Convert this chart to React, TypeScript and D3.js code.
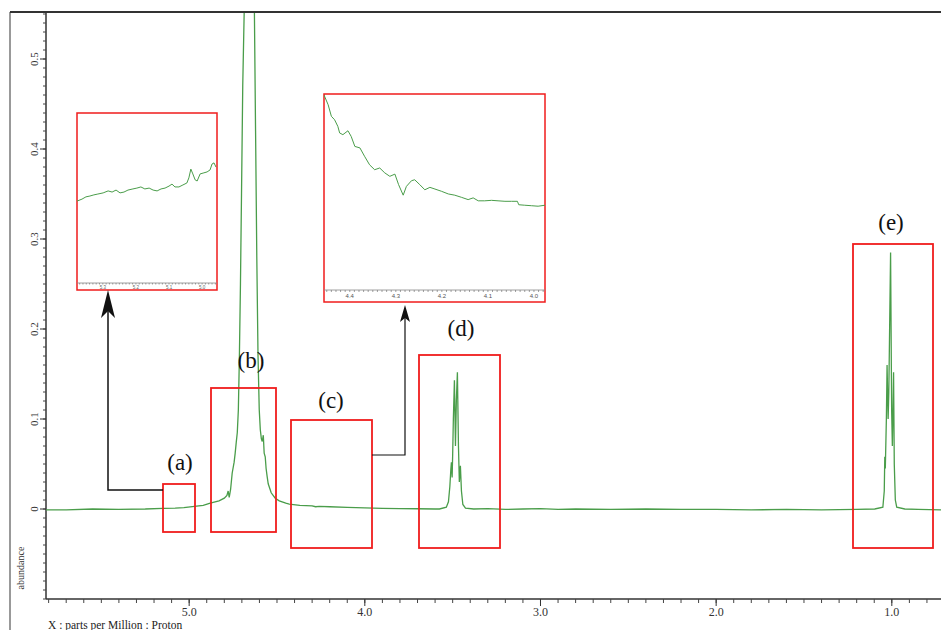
import React from "react";
import * as d3 from "d3";

// ---------- main spectrum (chemical shift in ppm, abundance) ----------
const shiftPpm = [
  5.815, 5.7, 5.55, 5.4, 5.25, 5.15, 5.08, 5.03, 4.97, 4.92, 4.88, 4.83, 4.8, 4.785, 4.778, 4.772,
  4.764, 4.755, 4.744, 4.738, 4.732, 4.726, 4.72, 4.714, 4.708, 4.702, 4.695, 4.686, 4.675, 4.655,
  4.638, 4.629, 4.622, 4.615, 4.608, 4.601, 4.595, 4.589, 4.584, 4.578, 4.573, 4.567, 4.562, 4.556,
  4.55, 4.533, 4.51, 4.487, 4.45, 4.43, 4.37, 4.3, 4.28, 4.26, 4.2, 4.1, 4.0, 3.9, 3.8, 3.7, 3.6,
  3.575, 3.536, 3.524, 3.516, 3.51, 3.507, 3.503, 3.5, 3.496, 3.49, 3.484, 3.479, 3.473, 3.467,
  3.462, 3.456, 3.45, 3.442, 3.427, 3.38, 3.3, 3.2, 3.1, 3.0, 2.9, 2.8, 2.6, 2.4, 2.2, 2.0, 1.8,
  1.6, 1.4, 1.2, 1.097, 1.051, 1.043, 1.04, 1.037, 1.031, 1.027, 1.021, 1.017, 1.007, 1.001, 0.997,
  0.99, 0.986, 0.98, 0.972, 0.926, 0.85, 0.72,
];
const abundance = [
  -0.001, -0.001, 0.0, -0.0005, 0.0, 0.0008, 0.001, 0.0015, 0.003, 0.004, 0.0065, 0.009, 0.012, 0.015, 0.02, 0.013,
  0.022, 0.04, 0.052, 0.062, 0.074, 0.085, 0.11, 0.17, 0.25, 0.35, 0.47, 0.56, 0.8, 1.0,
  0.85, 0.56, 0.42, 0.28, 0.17, 0.11, 0.088, 0.078, 0.075, 0.082, 0.062, 0.058, 0.045, 0.036,
  0.028, 0.018, 0.012, 0.009, 0.0065, 0.0055, 0.004, 0.0035, 0.0025, 0.003, 0.0025, 0.0018, 0.0012, 0.0008, 0.0005, 0.0003, 0.0,
  0.0, 0.002, 0.008, 0.025, 0.045, 0.052, 0.035, 0.06, 0.1, 0.143, 0.07, 0.12, 0.152, 0.07,
  0.03, 0.048, 0.02, 0.005, 0.001, 0.0, 0.0005, -0.0005, 0.0, 0.0005, -0.0005, 0.0, -0.0005, 0.0, -0.0005, -0.0005, -0.001,
  -0.0005, -0.001, -0.0005, 0.0, 0.002, 0.02, 0.058, 0.045, 0.1, 0.16, 0.1, 0.13, 0.285, 0.11, 0.07,
  0.152, 0.05, 0.01, 0.002, 0.0, -0.0005, -0.001,
];

// ---------- inset (a) ----------
const insetAPpm = [
  5.378, 5.363, 5.351, 5.339, 5.327, 5.315, 5.299, 5.284, 5.272, 5.26, 5.248, 5.236, 5.224, 5.209,
  5.197, 5.185, 5.173, 5.16, 5.148, 5.136, 5.124, 5.112, 5.1, 5.091, 5.082, 5.07, 5.058, 5.046,
  5.04, 5.034, 5.028, 5.021, 5.015, 5.006, 4.997, 4.985, 4.976, 4.97, 4.964, 4.958,
];
const insetAValue = [
  0.00289, 0.00296, 0.00304, 0.00307, 0.00311, 0.00314, 0.00318, 0.00325, 0.00321, 0.00328, 0.00318, 0.00321, 0.00328, 0.00332,
  0.00335, 0.00339, 0.00332, 0.00335, 0.00328, 0.00325, 0.00332, 0.00335, 0.00342, 0.00349, 0.00339, 0.00339, 0.00346, 0.00353,
  0.00371, 0.00402, 0.00385, 0.00364, 0.0036, 0.00385, 0.00388, 0.00392, 0.00399, 0.0042, 0.00424, 0.00409,
];
const insetATicks = [5.3, 5.2, 5.1, 5.0];

// ---------- inset (c) ----------
const insetCPpm = [
  4.456, 4.447, 4.44, 4.433, 4.426, 4.422, 4.415, 4.404, 4.397, 4.389, 4.378, 4.368, 4.357, 4.346,
  4.335, 4.324, 4.313, 4.302, 4.294, 4.284, 4.277, 4.266, 4.259, 4.248, 4.237, 4.226, 4.215, 4.201,
  4.186, 4.172, 4.157, 4.143, 4.132, 4.121, 4.107, 4.092, 4.078, 4.063, 4.049, 4.036, 4.033, 4.02,
  4.005, 3.991, 3.976,
];
const insetCValue = [
  0.00796, 0.00756, 0.00709, 0.00695, 0.00668, 0.00641, 0.00634, 0.0065, 0.00627, 0.00586, 0.0058, 0.00546, 0.00511, 0.00491,
  0.00498, 0.00478, 0.00464, 0.00473, 0.0043, 0.00387, 0.00423, 0.00446, 0.0045, 0.0043, 0.00409, 0.00419, 0.00412, 0.00403,
  0.00392, 0.00387, 0.00378, 0.00369, 0.00376, 0.00364, 0.00364, 0.00366, 0.00364, 0.00362, 0.00362, 0.00362, 0.00348, 0.00346,
  0.00344, 0.00342, 0.00346,
];
const insetCTicks = [4.4, 4.3, 4.2, 4.1, 4.0];

// ---------- axes ----------
const xMajorTicks = [5.0, 4.0, 3.0, 2.0, 1.0];
const yMajorTicks = [0, 0.1, 0.2, 0.3, 0.4, 0.5];
const regionLabels = ["(a)", "(b)", "(c)", "(d)", "(e)"];

const FONT = "'Liberation Serif', 'Times New Roman', Times, serif";
const GREEN = "#4a9d4a";
const RED = "#f01c1c";

const W = 941;
const H = 630;
const PL = 46, PT = 12, PR = 941, PB = 599;

export default function App() {
  const x = d3.scaleLinear().domain([5.815, 0.72]).range([PL, PR]);
  const y = d3.scaleLinear().domain([-0.1, 0.5]).range([PB, 59]);

  const mainData = shiftPpm.map((p, i) => [p, abundance[i]] as [number, number]);
  const mainLine = d3.line<[number, number]>().x((d) => x(d[0])).y((d) => y(d[1]));

  const xMinor = d3.range(58, 7, -1).map((v) => v / 10);
  const yMinor = d3.range(-10, 56).map((v) => v / 100);

  // inset a
  const ax = d3.scaleLinear().domain([5.378, 4.955]).range([77, 217]);
  const ay = d3.scaleLinear().domain([0, 0.006]).range([283, 113]);
  const aLine = d3.line<number>().x((_, i) => ax(insetAPpm[i])).y((v) => ay(v));
  const aMinor = d3.range(537, 495, -1).map((v) => v / 100);

  // inset c
  const cx = d3.scaleLinear().domain([4.456, 3.976]).range([324, 545]);
  const cy = d3.scaleLinear().domain([0, 0.008]).range([290, 94]);
  const cLine = d3.line<number>().x((_, i) => cx(insetCPpm[i])).y((v) => cy(v));
  const cMinor = d3.range(445, 397, -1).map((v) => v / 100);

  const boxes = [
    { x0: 163, y0: 484, x1: 195, y1: 532 },
    { x0: 211, y0: 388, x1: 276, y1: 532 },
    { x0: 291, y0: 420, x1: 372, y1: 548 },
    { x0: 419, y0: 355, x1: 500, y1: 548 },
    { x0: 853, y0: 244, x1: 933, y1: 548 },
  ];
  const labelPos = [
    [180, 470],
    [251, 368],
    [331, 408],
    [461, 336],
    [891, 230],
  ];

  const arrowHead = (tx: number, ty: number, w: number, h: number, notch: number) =>
    `M${tx},${ty} L${tx - w / 2},${ty + h} L${tx},${ty + h - notch} L${tx + w / 2},${ty + h} Z`;

  return (
    <svg
      width={W}
      height={H}
      style={{ position: "absolute", left: 0, top: 0, background: "#fff" }}
      fontFamily={FONT}
    >
      <defs>
        <clipPath id="plotClip">
          <rect x={PL} y={PT + 1} width={PR - PL} height={PB - PT - 1} />
        </clipPath>
        <clipPath id="clipA">
          <rect x={77} y={113} width={140} height={177} />
        </clipPath>
        <clipPath id="clipC">
          <rect x={324} y={94} width={221} height={208} />
        </clipPath>
      </defs>
      <rect x={0} y={0} width={W} height={H} fill="#fff" />

      {/* outer frame */}
      <line x1={10} y1={PT} x2={10} y2={H} stroke="#555" strokeWidth={1.2} />
      <line x1={10} y1={PT} x2={W} y2={PT} stroke="#333" strokeWidth={2} />

      {/* y axis */}
      <line x1={PL} y1={PT} x2={PL} y2={PB} stroke="#333" strokeWidth={1.5} />
      {yMinor.map((v) => (
        <line key={"ym" + v} x1={PL - 3} x2={PL} y1={y(v)} y2={y(v)} stroke="#444" strokeWidth={1} />
      ))}
      {yMajorTicks.map((v) => (
        <g key={"yt" + v}>
          <line x1={PL - 6} x2={PL} y1={y(v)} y2={y(v)} stroke="#333" strokeWidth={1} />
          <text
            transform={`translate(38,${y(v)}) rotate(-90)`}
            textAnchor="middle"
            fontSize={11}
            fill="#333"
          >
            {v === 0 ? "0" : v.toFixed(1)}
          </text>
        </g>
      ))}
      <text transform={`translate(24,568) rotate(-90)`} textAnchor="middle" fontSize={10} fill="#333">
        abundance
      </text>

      {/* x axis */}
      <line x1={PL} y1={PB} x2={PR} y2={PB} stroke="#333" strokeWidth={1.5} />
      {xMinor.map((v) => (
        <line key={"xm" + v} x1={x(v)} x2={x(v)} y1={PB} y2={PB + 4} stroke="#444" strokeWidth={1} />
      ))}
      {xMajorTicks.map((v) => (
        <g key={"xt" + v}>
          <line x1={x(v)} x2={x(v)} y1={PB} y2={PB + 7} stroke="#333" strokeWidth={1} />
          <text x={x(v)} y={615.5} textAnchor="middle" fontSize={12} fill="#333">
            {v.toFixed(1)}
          </text>
        </g>
      ))}
      <text x={48} y={628.5} fontSize={11.5} fill="#222">
        X : parts per Million : Proton
      </text>

      {/* spectrum */}
      <path d={mainLine(mainData) || ""} fill="none" stroke={GREEN} strokeWidth={1.3} clipPath="url(#plotClip)" />

      {/* region boxes */}
      {boxes.map((b, i) => (
        <rect
          key={"b" + i}
          x={b.x0}
          y={b.y0}
          width={b.x1 - b.x0}
          height={b.y1 - b.y0}
          fill="none"
          stroke={RED}
          strokeWidth={1.8}
        />
      ))}
      {regionLabels.map((t, i) => (
        <text key={t} x={labelPos[i][0]} y={labelPos[i][1]} textAnchor="middle" fontSize={23} fill="#111">
          {t}
        </text>
      ))}

      {/* inset a */}
      <rect x={77} y={113} width={140} height={177} fill="#fff" stroke={RED} strokeWidth={1.5} />
      <line x1={77} x2={217} y1={283} y2={283} stroke="#888" strokeWidth={0.8} />
      {aMinor.map((v) => (
        <line key={"am" + v} x1={ax(v)} x2={ax(v)} y1={283} y2={284.5} stroke="#777" strokeWidth={0.7} />
      ))}
      {insetATicks.map((v) => (
        <text key={"at" + v} x={ax(v)} y={288.5} textAnchor="middle" fontSize={4.5} fill="#666" fontFamily="Arial, sans-serif">
          {v.toFixed(1)}
        </text>
      ))}
      <path d={aLine(insetAValue) || ""} fill="none" stroke={GREEN} strokeWidth={1} clipPath="url(#clipA)" />

      {/* inset c */}
      <rect x={324} y={94} width={221} height={208} fill="#fff" stroke={RED} strokeWidth={1.5} />
      <line x1={324} x2={545} y1={290} y2={290} stroke="#888" strokeWidth={0.8} />
      {cMinor.map((v) => (
        <line key={"cm" + v} x1={cx(v)} x2={cx(v)} y1={290} y2={292} stroke="#777" strokeWidth={0.7} />
      ))}
      {insetCTicks.map((v) => (
        <text key={"ct" + v} x={cx(v)} y={298} textAnchor="middle" fontSize={6} fill="#555" fontFamily="Arial, sans-serif">
          {v.toFixed(1)}
        </text>
      ))}
      <path d={cLine(insetCValue) || ""} fill="none" stroke={GREEN} strokeWidth={1} clipPath="url(#clipC)" />

      {/* arrows */}
      <polyline points="163,490 108,490 108,310" fill="none" stroke="#111" strokeWidth={1.5} />
      <path d={arrowHead(108, 290, 14, 28, 7)} fill="#111" />
      <polyline points="372,455 405,455 405,318" fill="none" stroke="#111" strokeWidth={1.2} />
      <path d={arrowHead(405, 305, 10, 17, 4)} fill="#111" />
    </svg>
  );
}
